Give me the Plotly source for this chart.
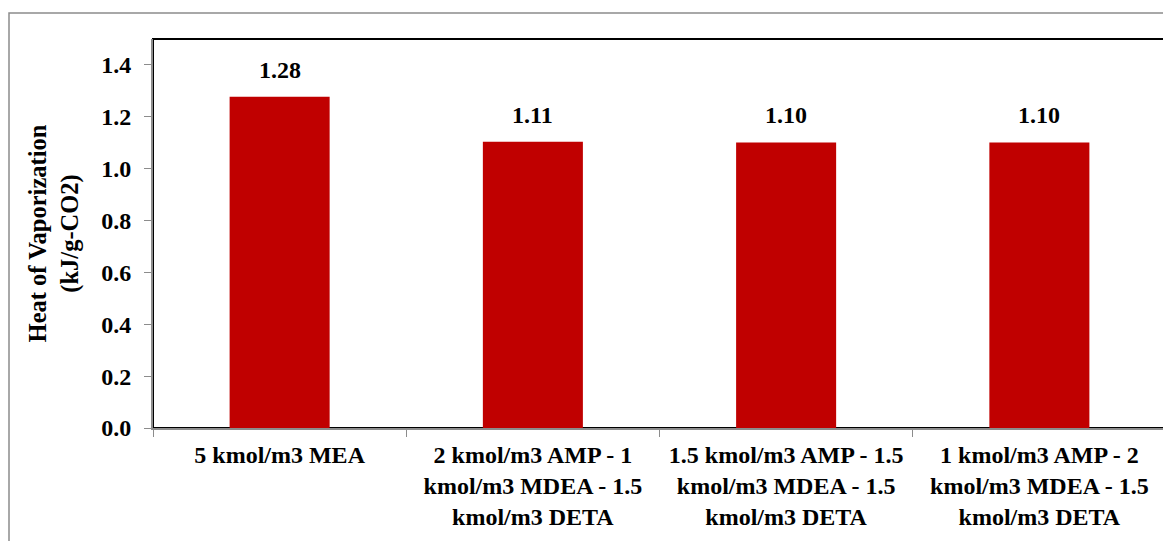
import plotly.graph_objects as go

categories = [
    "5 kmol/m3 MEA",
    "2 kmol/m3 AMP - 1<br>kmol/m3 MDEA - 1.5<br>kmol/m3 DETA",
    "1.5 kmol/m3 AMP - 1.5<br>kmol/m3 MDEA - 1.5<br>kmol/m3 DETA",
    "1 kmol/m3 AMP - 2<br>kmol/m3 MDEA - 1.5<br>kmol/m3 DETA",
]
values = [1.277, 1.104, 1.101, 1.101]
labels = ["1.28", "1.11", "1.10", "1.10"]
y_ticks = [0.0, 0.2, 0.4, 0.6, 0.8, 1.0, 1.2, 1.4]

FONT = "Liberation Serif, Times New Roman, DejaVu Serif, serif"

fig = go.Figure(
    go.Bar(
        x=categories,
        y=values,
        marker=dict(color="#C00000", line=dict(width=0)),
        cliponaxis=False,
        hoverinfo="skip",
    )
)

annotations = [
    dict(x=c, y=v, xref="x", yref="y", text=f"<b>{t}</b>", showarrow=False,
         yanchor="bottom", yshift=12,
         font=dict(family=FONT, size=24, color="black"))
    for c, v, t in zip(categories, values, labels)
]

# figure is placed with an 8px page offset
W, H = 1163, 533
L, T, R, B = 145, 31, 5, 113
PW = W - L - R
PH = H - T - B

fig.update_layout(
    width=W,
    height=H,
    margin=dict(l=L, r=R, t=T, b=B, autoexpand=False),
    paper_bgcolor="white",
    plot_bgcolor="white",
    bargap=0.605,
    showlegend=False,
    font=dict(family=FONT, size=24, color="black"),
    annotations=annotations,
    shapes=[
        dict(type="rect", xref="paper", yref="paper", x0=0, x1=1, y0=0, y1=1,
             line=dict(color="black", width=2), layer="below"),
        dict(type="rect", xref="paper", yref="paper",
             x0=-(L - 1) / PW, x1=1 + 4 / PW, y0=-(B + 20) / PH, y1=1 + (T - 5) / PH,
             line=dict(color="#8c8c8c", width=1.5), layer="below"),
    ],
)

fig.update_xaxes(
    type="category",
    tickson="boundaries",
    ticks="outside",
    ticklen=7,
    tickcolor="#8c8c8c",
    showline=True,
    linecolor="#8c8c8c",
    linewidth=2,
    showgrid=False,
    ticklabelstandoff=4,
    tickfont=dict(family=FONT, size=24, color="black", weight="bold"),
)

fig.update_yaxes(
    range=[0, 1.5],
    tickvals=y_ticks,
    ticktext=[f"{v:.1f}" for v in y_ticks],
    ticks="outside",
    ticklen=7,
    tickcolor="#8c8c8c",
    showline=True,
    linecolor="#8c8c8c",
    linewidth=2,
    showgrid=False,
    zeroline=False,
    ticklabelstandoff=8,
    tickfont=dict(family=FONT, size=24, color="black", weight="bold"),
    title=dict(
        text="<b>Heat of Vaporization<br>(kJ/g-CO2)</b>",
        font=dict(family=FONT, size=24.5, color="black"),
        standoff=16,
    ),
)

fig.write_html("out.html")
